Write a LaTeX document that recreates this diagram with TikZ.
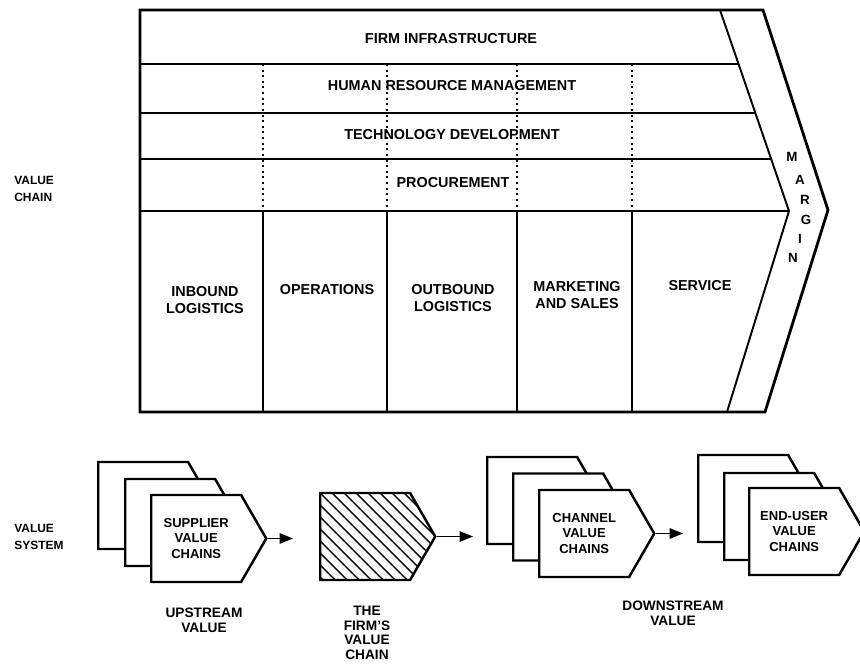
\documentclass[tikz,border=0pt]{standalone}
\usepackage{fontspec}
\setmainfont{Liberation Sans}
\usepackage{tikz}
\usetikzlibrary{shapes.symbols, arrows.meta, positioning}

\begin{document}
\begin{tikzpicture}[
    frame/.style={line width=1.6pt, line join=miter},
    rowline/.style={line width=1.1pt},
    colline/.style={line width=0.8pt},
    dotline/.style={line width=0.8pt, dash pattern=on 1.1pt off 2.1pt},
    lbl/.style={font=\fontsize{8.2}{9.6}\selectfont\bfseries, align=center, inner sep=0pt},
    lowlbl/.style={font=\fontsize{7.8}{8.3}\selectfont\bfseries, align=center, inner sep=0pt},
    sidelbl/.style={font=\fontsize{6.8}{10}\selectfont\bfseries, align=left, anchor=west, inner sep=0pt},
    chev/.style={shape=signal, signal to=east, signal pointer angle=120, draw, fill=white,
                 line width=1.4pt, minimum width=2.3cm, minimum height=1.74cm, anchor=west,
                 font=\fontsize{7.4}{8.8}\selectfont\bfseries, align=center, inner sep=0pt},
    flow/.style={-{Triangle[length=0.27cm, width=0.21cm]}, line width=0.9pt}
]
\useasboundingbox (0,0) rectangle (17.2,-13.28);

% Value chain frame and margin
\draw[frame] (2.8,-0.2) -- (15.26,-0.2) -- (16.56,-4.2) -- (15.3,-8.24) -- (2.8,-8.24) -- cycle;
\draw[rowline] (14.4,-0.2) -- (15.78,-4.22) -- (14.54,-8.24);

% Support activities
\draw[rowline] (2.8,-1.28) -- (14.77,-1.28);
\draw[rowline] (2.8,-2.26) -- (15.11,-2.26);
\draw[rowline] (2.8,-3.18) -- (15.42,-3.18);
\draw[frame] (2.8,-4.22) -- (15.78,-4.22);
\foreach \x in {5.26, 7.74, 10.34, 12.64} {
    \draw[dotline] (\x,-1.28) -- (\x,-4.22);
    \draw[colline] (\x,-4.22) -- (\x,-8.24);
}

\node[lbl] (infra) at (9.02,-0.78) {FIRM INFRASTRUCTURE};
\node[lbl] (hrm) at (9.04,-1.72) {HUMAN RESOURCE MANAGEMENT};
\node[lbl] (tech) at (9.04,-2.7) {TECHNOLOGY DEVELOPMENT};
\node[lbl] (proc) at (9.06,-3.66) {PROCUREMENT};

% Primary activities
\node[lbl] (inb) at (4.1,-6.0) {INBOUND\\LOGISTICS};
\node[lbl] (ops) at (6.54,-5.8) {OPERATIONS};
\node[lbl] (outb) at (9.06,-5.96) {OUTBOUND\\LOGISTICS};
\node[lbl] (mkt) at (11.54,-5.9) {MARKETING\\AND SALES};
\node[lbl] (serv) at (14.0,-5.72) {SERVICE};

\foreach \ch/\x/\y [count=\i] in {M/15.84/-3.14, A/16.0/-3.6, R/16.1/-4.0,
                                  G/16.12/-4.4, I/16.0/-4.78, N/15.86/-5.16}
    \node[lbl, font=\fontsize{7.6}{8}\selectfont\bfseries] (mg\i) at (\x,\y) {\ch};

\node[sidelbl] (vchain) at (0.28,-3.78) {VALUE\\CHAIN};
\node[sidelbl] (vsys) at (0.28,-10.74) {VALUE\\SYSTEM};

% Value system
\node[chev] (sup3) at (1.94,-10.11) {};
\node[chev] (sup2) at (2.48,-10.45) {};
\node[chev] (sup1) at (3.0,-10.77) {SUPPLIER\\VALUE\\CHAINS};

\node[chev, path picture={
    \foreach \k in {-7,...,10}
        \draw[line width=0.8pt] ([xshift=\k*0.24cm]path picture bounding box.north west) -- ++(2cm,-2cm);
    }] (firm) at (6.38,-10.73) {};

\node[chev] (chan3) at (9.72,-10.01) {};
\node[chev] (chan2) at (10.24,-10.34) {};
\node[chev] (chan1) at (10.76,-10.67) {CHANNEL\\VALUE\\CHAINS};

\node[chev] (end3) at (13.94,-9.97) {};
\node[chev] (end2) at (14.46,-10.33) {};
\node[chev] (end1) at (14.96,-10.63) {END-USER\\VALUE\\CHAINS};

\draw[flow, shorten >=0.52cm] (sup1.east) -- (sup1.east -| firm.west);
\draw[flow, shorten >=0.26cm] (firm.east) -- (firm.east -| chan3.west);
\draw[flow, shorten >=0.28cm] (chan1.east) -- (chan1.east -| end3.west);

\node[lowlbl] (upval) at (4.08,-12.4) {UPSTREAM\\VALUE};
\node[lowlbl] (firmval) at (7.34,-12.66) {THE\\FIRM'S\\VALUE\\CHAIN};
\node[lowlbl] (downval) at (13.46,-12.27) {DOWNSTREAM\\VALUE};
\end{tikzpicture}
\end{document}
